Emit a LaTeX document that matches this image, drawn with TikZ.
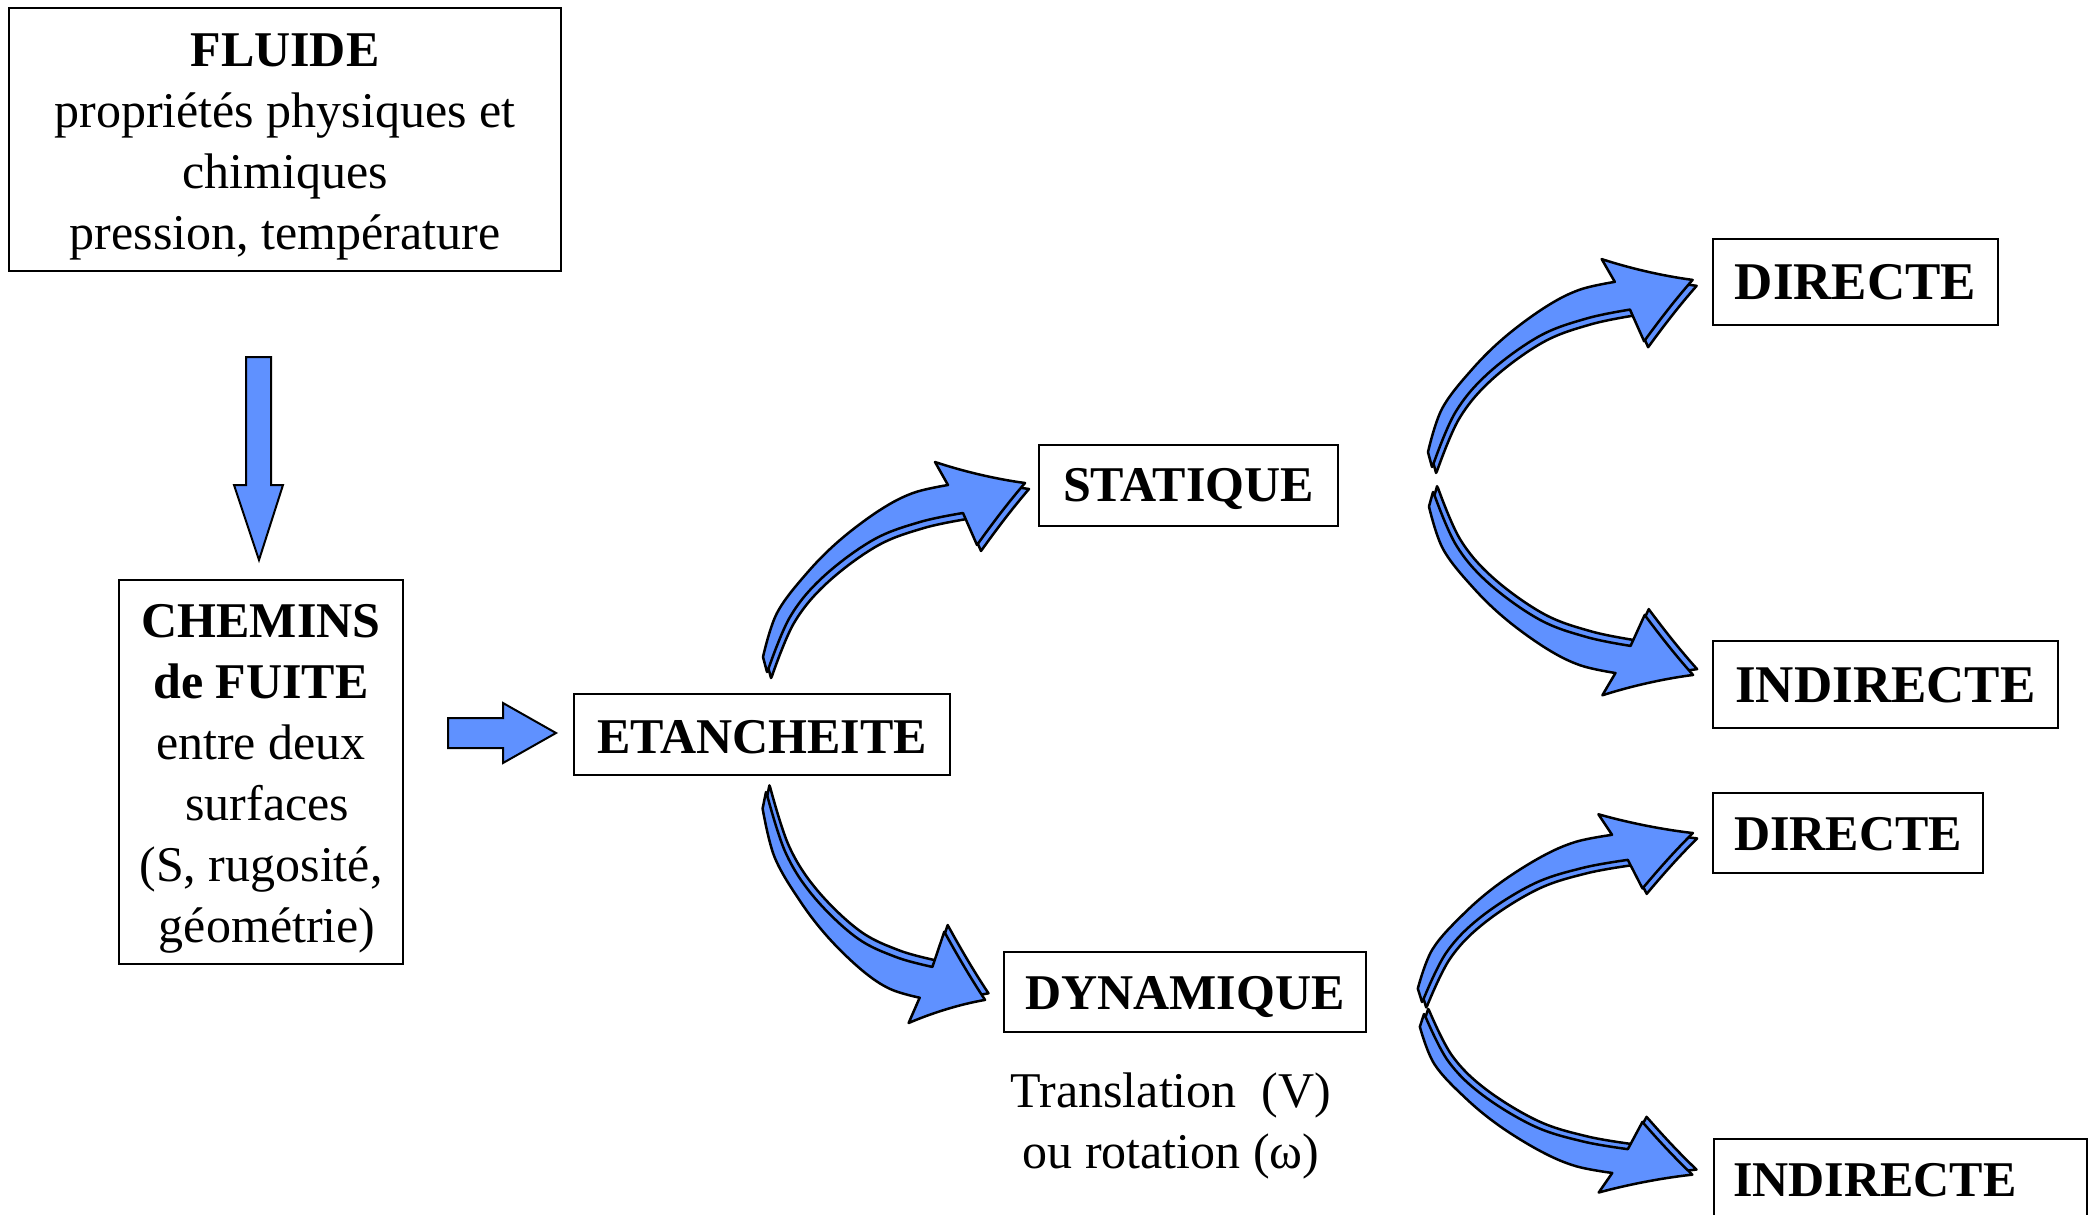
\documentclass[tikz,border=0pt]{standalone}
\usepackage{fontspec}
\setmainfont{Liberation Serif}
\usetikzlibrary{calc}
\definecolor{arrowblue}{RGB}{95,145,255}
\newcommand\lift[1]{\rule{0pt}{#1pt}}
\tikzset{
  box/.style={draw=black, line width=2pt, inner sep=0pt, align=center, font=\fontsize{50}{61}\selectfont},
  boldbox/.style={box, font=\fontsize{50}{61}\selectfont\bfseries},
  bigbox/.style={box, font=\fontsize{53}{61}\selectfont\bfseries},
  plaintext/.style={align=center, inner sep=0pt, font=\fontsize{50}{61}\selectfont},
  arrowfill/.style={fill=arrowblue, draw=black, line width=2.5pt, line join=round},
  blockarrow/.style={fill=arrowblue, draw=black, line width=2pt, line join=miter},
  curvarrow/.pic={
    \foreach \dx/\dy in {4/6,0/0}{
      \path[arrowfill, shift={(\dx,\dy)}] (0,0)
        -- plot[smooth,tension=0.6] coordinates {(-4,-15) (10,-59) (40,-99) (73,-132) (113,-162) (146,-179) (181,-187)}
        -- (168,-210) .. controls (195,-201) and (228,-193) .. (258,-189)
        .. controls (240,-168) and (225,-148) .. (210,-127)
        -- (196,-159)
        -- plot[smooth,tension=0.6] coordinates {(196,-159) (153,-150) (106,-132) (56,-95) (23,-55) (1,-2)}
        -- cycle;
    }
  }
}
\begin{document}
\begin{tikzpicture}[x=1pt,y=-1pt]
\useasboundingbox (0,0) rectangle (2094,1215);
\fill[white] (0,0) rectangle (2094,1215);
\clip (0,0) rectangle (2094,1215);

% boxes
\node[box, minimum width=552pt, minimum height=263pt] (fluide) at (285,139.5)
  {\lift{47}\textbf{FLUIDE}\\propriétés physiques et\\chimiques\\pression, température};
\node[box, minimum width=284pt, minimum height=384pt] (chemins) at (261,772)
  {\lift{47}\textbf{CHEMINS}\\\textbf{de FUITE}\\entre deux\\\hspace*{.25em}surfaces\\(S, rugosité,\\\hspace*{.25em}géométrie)};
\node[boldbox, minimum width=376pt, minimum height=81pt] (etanch) at (762,734.5) {\lift{39}ETANCHEITE};
\node[boldbox, minimum width=299pt, minimum height=81pt] (statique) at (1188.5,485.5) {\lift{41}STATIQUE};
\node[boldbox, minimum width=362pt, minimum height=80pt] (dynamique) at (1185,992) {\lift{43}DYNAMIQUE};
\node[plaintext] (motion) at (1171,1126) {Translation\ \ (V)\\ou rotation (ω)};
\node[bigbox, minimum width=285pt, minimum height=86pt] (directeA) at (1855.5,282) {DIRECTE};
\node[bigbox, minimum width=345pt, minimum height=87pt] (indirecteA) at (1885.5,684.5) {\lift{37}INDIRECTE};
\node[boldbox, minimum width=270pt, minimum height=80pt] (directeB) at (1848,833) {\lift{35}DIRECTE};
\node[boldbox, anchor=north west, align=left,
      text width=335pt, inner xsep=19pt, inner ysep=0pt, text height=57pt, text depth=45pt] (indirecteB) at (1713,1138) {INDIRECTE};

% straight block arrows
\path[blockarrow] (246,357) -- (271,357) -- (271,485) -- (283,485) -- (259,560) -- (234,485) -- (246,485) -- cycle;
\path[blockarrow] (448,718) -- (503,718) -- (503,703) -- (556,733) -- (503,763) -- (503,748) -- (448,748) -- cycle;

% curved 3D arrows
\coordinate (t1) at (767,672);
\coordinate (t2) at (766,792);
\coordinate (t3) at (1432,467);
\coordinate (t4) at (1433,492);
\coordinate (t5) at (1422,1002);
\coordinate (t6) at (1424,1014);
\pic at (t1) {curvarrow};
\pic[xscale=0.849, yscale=-1.10] at (t2) {curvarrow};
\pic[xscale=1.01, yscale=0.99] at (t3) {curvarrow};
\pic[xscale=1.008, yscale=-0.968] at (t4) {curvarrow};
\pic[xscale=1.05, yscale=0.894] at (t5) {curvarrow};
\pic[xscale=1.04, yscale=-0.85] at (t6) {curvarrow};
\end{tikzpicture}
\end{document}
